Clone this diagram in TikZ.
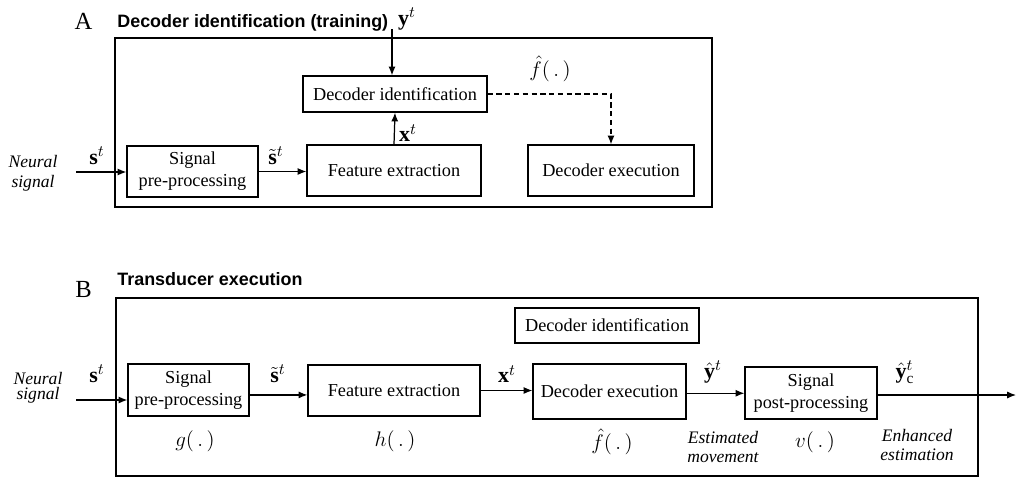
\documentclass[tikz,border=0pt]{standalone}
\usepackage{fontspec}
\setmainfont{Liberation Serif}
\newfontfamily\titlefont{Liberation Sans}
\usetikzlibrary{arrows.meta,calc}
\begin{document}
\begin{tikzpicture}[x=0.02cm,y=-0.02cm,
  blk/.style={draw,line width=0.7pt,inner sep=0pt,align=center,font=\fontsize{10.4}{12.5}\selectfont},
  frame/.style={draw,line width=0.7pt},
  arr/.style={line width=0.7pt,-{Latex[length=5pt,width=4pt]}},
  darr/.style={arr,dashed,dash pattern=on 3pt off 2pt},
  lbl/.style={font=\fontsize{12.5}{14}\selectfont,inner sep=0pt},
  fn/.style={font=\fontsize{13}{15}\selectfont,inner sep=0pt},
  ital/.style={font=\fontsize{10}{11.4}\selectfont\itshape,align=center,inner sep=0pt},
  ttl/.style={font=\titlefont\bfseries\fontsize{10.2}{12}\selectfont,anchor=base west,inner sep=0pt},
  letter/.style={font=\fontsize{14}{16}\selectfont,anchor=base,inner sep=0pt}]
\useasboundingbox (0,0) rectangle (1017,477);

% ---------------- Panel A ----------------
\node[letter] (letA) at (83.5,29) {A};
\node[ttl] (ttlA) at (117,27) {Decoder identification (training)};
\draw[frame] (115,38) rectangle (712,207);

\node[blk,minimum width=3.68cm,minimum height=0.72cm] (decidA) at (395,94) {Decoder identification};
\node[blk,minimum width=2.62cm,minimum height=1.02cm] (preA) at (192.5,171.5) {Signal\\pre-processing};
\node[blk,minimum width=3.48cm,minimum height=1.02cm] (featA) at (394,170.5) {Feature extraction};
\node[blk,minimum width=3.32cm,minimum height=1.02cm] (decexA) at (611,170.5) {Decoder execution};

\coordinate (yA) at (392,29);
\coordinate (nsA) at (76,172);
\draw[arr] (yA) -- (yA |- decidA.north);
\draw[arr] (featA.north) -- (decidA.south);
\draw[darr] (decidA.east) -| (decexA.north);
\draw[arr] (nsA) -- (nsA -| preA.west);
\draw[arr] (preA.east) -- (preA.east -| featA.west);

\node[lbl] (yAl) at (407,19) {$\mathbf{y}^t$};
\node[lbl] (xAl) at (408,133) {$\mathbf{x}^t$};
\node[lbl] (sAl) at (97,156) {$\mathbf{s}^t$};
\node[lbl] (stAl) at (276,156) {$\tilde{\mathbf{s}}^t$};
\node[fn] (fAl) at (550,69) {$\hat{f}(\,.\,)$};
\node[ital,font=\fontsize{10}{11.6}\selectfont\itshape] (nsAl) at (33,173) {Neural\\signal};

% ---------------- Panel B ----------------
\node[letter] (letB) at (83.5,297) {B};
\node[ttl] (ttlB) at (117,285) {Transducer execution};
\draw[frame] (116,298) rectangle (978,476);

\node[blk,minimum width=3.68cm,minimum height=0.70cm] (decidB) at (607,325.5) {Decoder identification};
\node[blk,minimum width=2.42cm,minimum height=1.04cm] (preB) at (188.5,390) {Signal\\pre-processing};
\node[blk,minimum width=3.44cm,minimum height=1.02cm] (featB) at (394,390.5) {Feature extraction};
\node[blk,minimum width=3.06cm,minimum height=1.10cm] (decexB) at (609.5,391.5) {Decoder execution};
\node[blk,minimum width=2.64cm,minimum height=1.04cm] (postB) at (811,393) {Signal\\post-processing};

\coordinate (nsB) at (76,400);
\coordinate (outB) at (1016,395);
\draw[arr] (nsB) -- (nsB -| preB.west);
\draw[arr] ([yshift=-2.8pt]preB.east) -- ([yshift=-2.8pt]preB.east -| featB.west);
\draw[arr] (featB.east) -- (featB.east -| decexB.west);
\draw[arr] ([yshift=-1pt]decexB.east) -- ([yshift=-1pt]decexB.east -| postB.west);
\draw[arr] (postB.east |- outB) -- (outB);

\node[lbl] (sBl) at (97,374) {$\mathbf{s}^t$};
\node[lbl] (stBl) at (278,374) {$\tilde{\mathbf{s}}^t$};
\node[lbl] (xBl) at (507,374) {$\mathbf{x}^t$};
\node[lbl] (yhBl) at (713,372) {$\hat{\mathbf{y}}^t$};
\node[lbl] (ycBl) at (905,372) {$\hat{\mathbf{y}}^t_{\mathrm{c}}$};
\node[fn] (gBl) at (195,441) {$g(\,.\,)$};
\node[fn] (hBl) at (395,441) {$h(\,.\,)$};
\node[fn] (fBl) at (612,442) {$\hat{f}(\,.\,)$};
\node[fn] (vBl) at (815,442) {$v(\,.\,)$};
\node[ital,font=\fontsize{10}{8.8}\selectfont\itshape] (nsBl) at (38,388) {Neural\\signal};
\node[ital,font=\fontsize{10}{11.2}\selectfont\itshape] (estBl) at (723,447) {Estimated\\movement};
\node[ital,font=\fontsize{10}{11}\selectfont\itshape] (enhBl) at (917,445) {Enhanced\\estimation};
\end{tikzpicture}
\end{document}
